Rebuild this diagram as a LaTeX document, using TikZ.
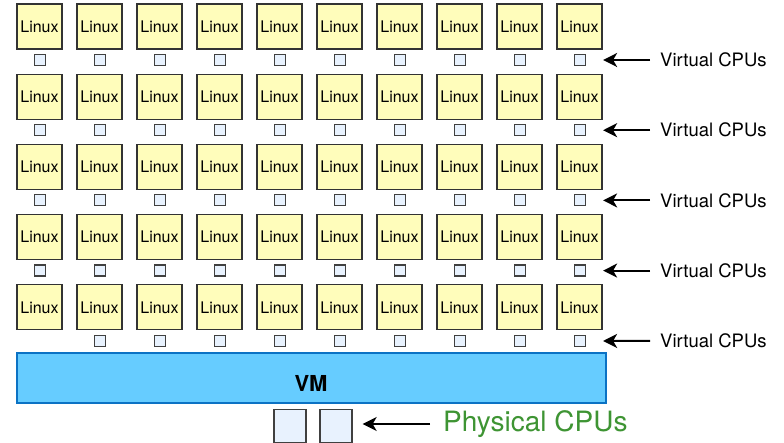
\documentclass[tikz,border=0pt]{standalone}
\usepackage{fontspec}
\setmainfont{TeX Gyre Heros}
\usetikzlibrary{arrows.meta}

\definecolor{linuxfill}{HTML}{FFFDBB}
\definecolor{cpufill}{HTML}{E8F2FE}
\definecolor{vmfill}{HTML}{66CCFF}
\definecolor{vmline}{HTML}{0B72C4}
\definecolor{physgreen}{HTML}{3E9433}

\begin{document}
\begin{tikzpicture}[x=1pt, y=-1pt, >=Latex,
  linuxbox/.style={draw=black!80, fill=linuxfill, line width=1.3pt,
    minimum size=45pt, inner sep=0pt, font=\fontsize{16}{16}\selectfont},
  vcpu/.style={draw=black!75, fill=cpufill, line width=1.2pt,
    minimum size=11pt, inner sep=0pt},
  pcpu/.style={draw=black!75, fill=cpufill, line width=1.3pt,
    minimum width=32pt, minimum height=33pt, inner sep=0pt},
  cpulabel/.style={anchor=west, inner sep=0pt},
  pointer/.style={->, line width=2pt, >={Stealth[length=14pt, width=14pt, inset=4pt]}}]
  \useasboundingbox (0,0) rectangle (784,443);

  % guests and their virtual cpus
  \foreach \r in {1,...,5}
    \foreach \c in {1,...,10}
      \node[linuxbox] (L-\r-\c) at ({39.5+60*(\c-1)}, {26.5+70.2*(\r-1)}) {Linux};
  \foreach \r in {1,...,4}
    \foreach \c in {1,...,10}
      \node[vcpu] (V-\r-\c) at ({40+60*(\c-1)}, {60+70.2*(\r-1)}) {};
  \foreach \c in {2,...,10}
    \node[vcpu] (V-5-\c) at ({40+60*(\c-1)}, 341) {};

  \foreach \r in {1,...,5} {
    \node[cpulabel, font=\fontsize{18.5}{18.5}\selectfont] (vl-\r) at (660, {60+70.2*(\r-1)}) {Virtual CPUs};
    \draw[pointer, shorten >=17pt, shorten <=10pt] (vl-\r.west) -- (V-\r-10.east);
  }

  % hypervisor
  \node[draw=vmline, fill=vmfill, line width=2pt, minimum width=589pt,
    minimum height=49pt, inner sep=0pt, text height=26pt, text depth=0pt,
    font=\fontsize{22}{22}\selectfont\bfseries]
    (vm) at (311, 378) {VM};

  % physical cpus
  \node[pcpu] (P-1) at (290, 426) {};
  \node[pcpu] (P-2) at (336, 426) {};
  \node[cpulabel, text=physgreen, font=\fontsize{28}{28}\selectfont] (pl) at (443, 424) {Physical CPUs};
  \draw[pointer, shorten >=10pt, shorten <=13pt] (pl.west) -- (P-2.east |- pl.west);
\end{tikzpicture}
\end{document}
